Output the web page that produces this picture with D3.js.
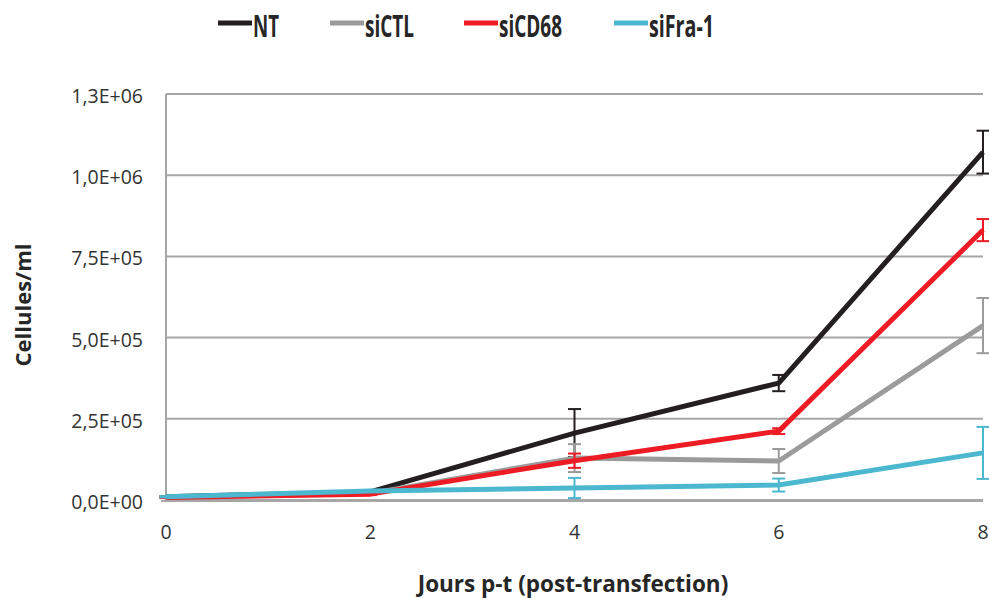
<!DOCTYPE html>
<html><head><meta charset="utf-8">
<script src="https://cdn.jsdelivr.net/npm/d3@7"></script>
<style>body{margin:0;background:#fff}svg{display:block}</style>
</head><body>
<svg id="c" width="989" height="598"></svg>
<script>
const days = [0, 2, 4, 6, 8];
const seriesNames = ["NT", "siCTL", "siCD68", "siFra-1"];
const colors = ["#231f20", "#9b9b9b", "#ed1c24", "#4bb8cf"];
const ntValues = [1.0e4, 2.5e4, 2.06e5, 3.6e5, 1.071e6];
const ntErrors = [2e3, 3e3, 7.4e4, 2.5e4, 6.6e4];
const siCTLValues = [0.9e4, 2.0e4, 1.29e5, 1.2e5, 5.37e5];
const siCTLErrors = [2e3, 3e3, 4.3e4, 3.7e4, 8.5e4];
const siCD68Values = [0.8e4, 1.8e4, 1.21e5, 2.12e5, 8.31e5];
const siCD68Errors = [2e3, 3e3, 2.2e4, 9e3, 3.4e4];
const siFraValues = [1.0e4, 2.8e4, 3.7e4, 4.6e4, 1.45e5];
const siFraErrors = [2e3, 3e3, 3.1e4, 2.0e4, 8.0e4];
const yTicks = [0, 2.5e5, 5e5, 7.5e5, 1e6, 1.25e6];
const yTickLabels = ["0,0E+00", "2,5E+05", "5,0E+05", "7,5E+05", "1,0E+06", "1,3E+06"];
const xTitle = "Jours p-t (post-transfection)";
const yTitle = "Cellules/ml";

const values = [ntValues, siCTLValues, siCD68Values, siFraValues];
const errors = [ntErrors, siCTLErrors, siCD68Errors, siFraErrors];

const svg = d3.select("#c");
const x = d3.scaleLinear().domain([0, 8]).range([166, 983]);
const y = d3.scaleLinear().domain([0, 1.25e6]).range([500, 94]);
const grid = "#a6a6a6";
const font = "'Open Sans', sans-serif";

// gridlines
svg.append("g").selectAll("line").data(yTicks).join("line")
  .attr("x1", x(0)).attr("x2", x(8))
  .attr("y1", d => y(d)).attr("y2", d => y(d))
  .attr("stroke", grid).attr("stroke-width", 2);
// axes lines
svg.append("line").attr("x1", x(0)).attr("x2", x(0)).attr("y1", y(1.25e6)).attr("y2", y(0) + 1)
  .attr("stroke", grid).attr("stroke-width", 2);
svg.append("line").attr("x1", x(0) - 5).attr("x2", x(8)).attr("y1", y(0) + 1).attr("y2", y(0) + 1)
  .attr("stroke", grid).attr("stroke-width", 2);

// y tick labels
svg.append("g").selectAll("text").data(yTicks).join("text")
  .attr("x", 143).attr("y", d => y(d) + 2).attr("dy", "0.36em")
  .attr("text-anchor", "end").attr("font-family", font).attr("font-size", 19.5)
  .attr("fill", "#333").text((d, i) => yTickLabels[i]);
// x tick labels
svg.append("g").selectAll("text").data(days).join("text")
  .attr("x", d => x(d)).attr("y", 532).attr("dy", "0.36em")
  .attr("text-anchor", "middle").attr("font-family", font).attr("font-size", 19.5)
  .attr("fill", "#333").text(d => d);

// titles
svg.append("text").attr("x", 573).attr("y", 584).attr("dy", "0.36em")
  .attr("text-anchor", "middle").attr("font-family", font).attr("font-weight", "bold")
  .attr("font-size", 22.5).attr("fill", "#262626").text(xTitle);
svg.append("text").attr("transform", "translate(23,305) rotate(-90)").attr("dy", "0.36em")
  .attr("text-anchor", "middle").attr("font-family", font).attr("font-weight", "bold")
  .attr("font-size", 22).attr("fill", "#262626").text(yTitle);

// series
const line = d3.line().x((d, i) => x(days[i])).y(d => y(d));
values.forEach((vals, s) => {
  const g = svg.append("g");
  g.append("path").attr("d", line(vals)).attr("fill", "none")
    .attr("stroke", colors[s]).attr("stroke-width", 5).attr("stroke-linejoin", "round");
  const eg = g.append("g").attr("stroke", colors[s]).attr("stroke-width", 2);
  vals.forEach((v, i) => {
    const e = errors[s][i];
    const cx = x(days[i]);
    eg.append("line").attr("x1", cx).attr("x2", cx).attr("y1", y(v - e)).attr("y2", y(v + e));
    eg.append("line").attr("x1", cx - 6.5).attr("x2", cx + 6.5).attr("y1", y(v - e)).attr("y2", y(v - e));
    eg.append("line").attr("x1", cx - 6.5).attr("x2", cx + 6.5).attr("y1", y(v + e)).attr("y2", y(v + e));
  });
});

// legend
const legX = [218, 330, 464, 614];
const legW = [26, 49, 63, 65];
seriesNames.forEach((n, i) => {
  svg.append("line").attr("x1", legX[i]).attr("x2", legX[i] + 34).attr("y1", 23).attr("y2", 23)
    .attr("stroke", colors[i]).attr("stroke-width", 5);
  svg.append("text").attr("x", legX[i] + 35).attr("y", 36.5)
    .attr("font-family", font).attr("font-weight", "bold").attr("font-size", 31)
    .attr("textLength", legW[i]).attr("lengthAdjust", "spacingAndGlyphs")
    .attr("fill", "#262626").text(n);
});
</script>
</body></html>
